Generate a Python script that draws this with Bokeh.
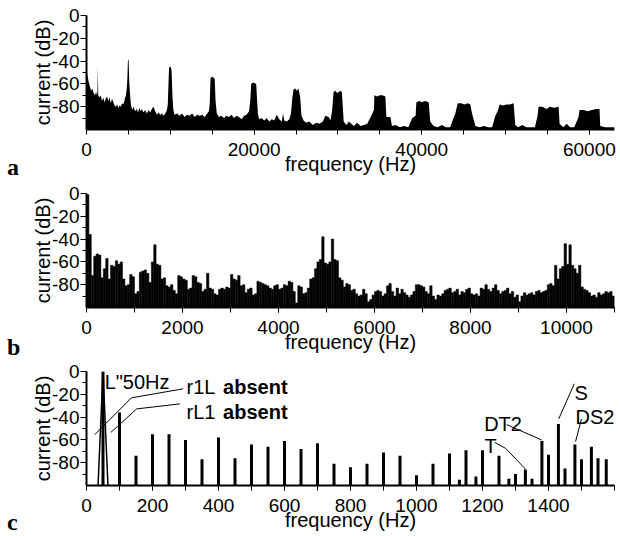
from bokeh.plotting import figure
from bokeh.layouts import column, row
from bokeh.models import FixedTicker, Label, Range1d, Div
from bokeh.embed import file_html
from bokeh.resources import INLINE

# ---------------- data ----------------
# panel a: spectrum envelope (frequency Hz, level dB)
a_freq = [0, 100, 250, 400, 550, 700, 850, 1000, 1150, 1250, 1300, 1350, 1400, 1550, 1700, 1850,
          2000, 2150, 2300, 2450, 2600, 2750, 2900, 3050, 3200, 3350, 3500, 3650, 3800, 3950,
          4100, 4250, 4400, 4550, 4700, 4800, 4880, 4940, 4980, 5030, 5100, 5200, 5300, 5450,
          5600, 5800, 6000, 6150, 6300, 6450, 6600, 6800, 7000, 7200, 7400, 7600, 7800, 8000,
          8200, 8400, 8600, 8800, 9000, 9200, 9400, 9600, 9700, 9780, 9850, 9950, 10050, 10150,
          10250, 10350, 10500, 10800, 11100, 11400, 11700, 12000, 12300, 12600, 12900, 13200,
          13500, 13800, 14100, 14400, 14600, 14700, 14800, 14900, 15100, 15300, 15400, 15550,
          15800, 16100, 16400, 16700, 17000, 17300, 17600, 17900, 18200, 18500, 18800, 19100,
          19400, 19550, 19650, 19800, 20000, 20250, 20350, 20450, 20600, 20900, 21200, 21500,
          21800, 22100, 22400, 22700, 23000, 23300, 23450, 23600, 23900, 24200, 24400, 24550,
          24700, 24900, 25100, 25300, 25500, 25650, 25900, 26200, 26600, 27000, 27400, 27800,
          28200, 28500, 28900, 29100, 29300, 29480, 29700, 29900, 30100, 30300, 30470, 30690,
          31000, 31300, 31600, 31900, 32300, 32700, 33100, 33500, 33900, 34300, 34350, 34700,
          35000, 35300, 35660, 35780, 36260, 36450, 36900, 37400, 37900, 38400, 38870, 39270,
          39360, 39700, 40000, 40400, 40830, 41010, 41410, 41900, 42400, 42900, 43400, 43730,
          44010, 44290, 44700, 45100, 45500, 45800, 46000, 46400, 46900, 47400, 47900, 48400,
          48780, 49060, 49300, 49700, 50100, 50500, 50960, 51160, 51500, 52000, 52500, 53000,
          53500, 53820, 53940, 54400, 54900, 55300, 55800, 56330, 56450, 56900, 57290, 57700,
          58200, 58710, 58830, 59300, 59800, 60300, 60800, 61210, 61300, 61900, 62400, 63000]
a_db = [-48, -52, -58, -62, -66, -64, -68, -70, -67, -70, -68, -45, -70, -72, -70, -75,
        -72, -76, -73, -71, -75, -72, -77, -73, -76, -79, -80, -78, -81, -79,
        -80, -77, -78, -74, -70, -64, -55, -40, -38, -40, -58, -70, -78, -83,
        -80, -84, -82, -85, -81, -84, -82, -85, -83, -86, -83, -85, -82, -80,
        -84, -87, -85, -87, -86, -88, -86, -83, -78, -60, -46, -45, -45, -48,
        -70, -82, -87, -86, -88, -86, -89, -87, -88, -86, -89, -87,
        -88, -87, -89, -86, -84, -78, -55, -54, -54, -56, -75, -86,
        -89, -88, -90, -88, -89, -87, -90, -88, -89, -91, -88, -87,
        -84, -74, -60, -59, -59, -60, -74, -86, -91, -90, -92, -90,
        -93, -91, -92, -87, -91, -93, -86, -92, -93, -91, -86, -73,
        -65, -64, -66, -64, -72, -88, -92, -94, -93, -96, -94, -95,
        -93, -88, -89, -92, -84, -67, -66, -68, -67, -66, -67, -93,
        -96, -93, -95, -97, -94, -97, -96, -95, -89, -83, -70, -71,
        -70, -70, -71, -89, -89, -97, -96, -98, -97, -98, -90, -88,
        -76, -75, -76, -75, -76, -93, -97, -98, -96, -98, -98, -91,
        -86, -77, -77, -78, -77, -78, -86, -97, -98, -97, -98, -98,
        -88, -84, -78, -79, -78, -78, -77, -96, -98, -96, -98, -98,
        -98, -88, -80, -80, -82, -80, -81, -80, -95, -98, -95, -98,
        -98, -89, -83, -83, -84, -83, -82, -82, -97, -98, -98, -98]

# panel b: spectrum in 50 Hz bins starting at 0 Hz
b_step = 50
b_db = [-1, -36, -72, -55, -53, -54, -74, -66, -57, -75,
        -63, -64, -59, -62, -60, -75, -81, -80, -71, -73,
        -88, -86, -69, -68, -67, -70, -78, -60, -45, -62,
        -63, -75, -74, -81, -82, -80, -85, -88, -72, -73,
        -75, -76, -84, -83, -72, -73, -78, -79, -86, -84,
        -70, -83, -84, -88, -89, -84, -83, -84, -82, -83,
        -71, -75, -76, -72, -81, -80, -87, -84, -83, -89,
        -88, -77, -78, -79, -80, -81, -83, -84, -81, -80,
        -84, -83, -80, -81, -77, -78, -86, -96, -81, -82,
        -88, -87, -83, -75, -74, -66, -60, -58, -38, -61,
        -62, -60, -40, -58, -59, -74, -76, -82, -79, -80,
        -85, -84, -88, -90, -89, -84, -88, -95, -93, -89,
        -86, -85, -86, -90, -88, -81, -79, -86, -90, -83,
        -88, -84, -87, -89, -91, -89, -86, -80, -80, -81,
        -82, -86, -88, -81, -90, -93, -89, -90, -88, -85,
        -84, -83, -87, -86, -84, -89, -86, -87, -84, -83,
        -88, -89, -88, -90, -83, -84, -80, -84, -86, -83,
        -80, -85, -88, -86, -85, -83, -88, -86, -91, -89,
        -95, -90, -87, -89, -88, -87, -89, -86, -85, -87,
        -86, -85, -80, -79, -81, -63, -75, -66, -64, -44,
        -62, -45, -63, -66, -70, -63, -82, -84, -85, -87,
        -90, -89, -91, -87, -89, -88, -86, -87, -86, -90]
b_freq = [b_step * (k + 0.5) for k in range(len(b_db))]

# panel c: harmonic lines
c_freq = [50, 100, 150, 200, 250, 300, 350, 400, 450, 500, 550, 600, 650, 700, 750, 800,
          850, 900, 950, 1000, 1050, 1100, 1130, 1150, 1180, 1200, 1250, 1280, 1300, 1330,
          1350, 1380, 1400, 1430, 1450, 1480, 1500, 1530, 1550, 1575]
c_db = [0, -36, -74, -55, -55, -60, -77, -58, -76, -64, -66, -61, -68, -63, -81, -84,
        -81, -71, -74, -91, -81, -72, -95, -69, -92, -69, -74, -94, -90, -86,
        -94, -61, -73, -46, -85, -64, -77, -66, -76, -77]
c_main_freq = [35, 50, 65]
c_main_db = [-100, 0, -100]

# panel c annotations: (text, x Hz, y dB, bold)
c_texts = [('L"50Hz', 55, -9.5, False),
           ("r1L", 303, -13.8, False), ("absent", 414, -13.8, True),
           ("rL1", 303, -35.2, False), ("absent", 414, -35.2, True),
           ("DT2", 1205, -45.7, False), ("T", 1206, -65, False),
           ("S", 1479, -19.1, False), ("DS2", 1482, -40.2, False)]
c_leaders = [([25, 136, 293], [-55.4, -23.1, -15.2]),
             ([74, 152, 283], [-53.4, -32.8, -28.4]),
             ([1237, 1270, 1330], [-62.2, -67.4, -85.5]),
             ([1273, 1379], [-46.6, -60.0]),
             ([1478, 1431], [-10.8, -41.6]),
             ([1500, 1482], [-41.6, -61.5])]

y_major = [0, -20, -40, -60, -80]
y_minor = [-10, -30, -50, -70, -90]

panel_letters = ["a", "b", "c"]
letter_tops = [155, 335, 510]

FONT = "Liberation Sans"
TICK_FS = "19px"
LAB_FS = "20px"
LEFT_W = 26


def make_fig(height, xmax, xmajor, xminor, bottom):
    p = figure(width=620 - LEFT_W, height=height, x_range=Range1d(0, xmax), y_range=Range1d(-100, 0),
               output_backend="svg", toolbar_location=None,
               min_border_left=86 - LEFT_W, min_border_right=6, min_border_top=15,
               min_border_bottom=bottom)
    p.outline_line_color = None
    p.grid.visible = False
    p.background_fill_color = "white"
    p.border_fill_color = "white"
    xa = p.xaxis[0]
    ya = p.yaxis[0]
    xa.ticker = FixedTicker(ticks=xmajor, minor_ticks=xminor)
    ya.ticker = FixedTicker(ticks=y_major, minor_ticks=y_minor)
    ya.major_label_overrides = {v: str(v) for v in y_major}
    xa.major_label_overrides = {v: str(v) for v in xmajor}
    for ax in (xa, ya):
        ax.axis_line_width = 2
        ax.axis_line_color = "black"
        ax.major_tick_line_color = "black"
        ax.minor_tick_line_color = "black"
        ax.major_tick_in = 0
        ax.minor_tick_in = 0
        ax.major_label_text_font = FONT
        ax.major_label_text_font_size = TICK_FS
        ax.major_label_text_color = "black"
        ax.axis_label_text_font = FONT
        ax.axis_label_text_font_size = LAB_FS
        ax.axis_label_text_font_style = "normal"
        ax.axis_label_text_color = "black"
    xa.major_tick_out = 5
    xa.minor_tick_out = 5
    xa.major_label_standoff = 8
    xa.axis_label = "frequency (Hz)"
    xa.axis_label_standoff = -6
    ya.major_tick_out = 6
    ya.minor_tick_out = 4
    ya.major_label_standoff = 1
    ya.axis_label = "current (dB)"
    ya.axis_label_standoff = -5
    return p


pa = make_fig(178, 63000, [0, 20000, 40000, 60000], list(range(5000, 63000, 5000)), 49)
pa.varea(x=a_freq, y1=-100, y2=a_db, fill_color="black")

pb = make_fig(178, 11000, [0, 2000, 4000, 6000, 8000, 10000], list(range(1000, 11001, 1000)), 49)
pb.vbar(x=b_freq, width=b_step, bottom=-100, top=b_db, fill_color="black",
        line_color="black", line_width=0.5)

pc = make_fig(180, 1600, [0, 200, 400, 600, 800, 1000, 1200, 1400], list(range(100, 1601, 100)), 51)
pc.segment(x0=c_freq, y0=-100, x1=c_freq, y1=c_db, line_color="black", line_width=3)
pc.line(c_main_freq, c_main_db, line_color="black", line_width=1.5)
for xs, ys in c_leaders:
    pc.line(xs, ys, line_color="black", line_width=1)
for txt, x, y, bold in c_texts:
    pc.add_layout(Label(x=x, y=y, text=txt, text_font=FONT, text_font_size=LAB_FS,
                        text_font_style="bold" if bold else "normal", text_color="black",
                        text_baseline="alphabetic", text_align="left"))

spans = "".join(
    '<span style="position:absolute;left:7px;top:%dpx;">%s</span>' % (t, s)
    for s, t in zip(panel_letters, letter_tops))
letters = Div(text='<div style="position:relative;width:%dpx;height:536px;'
                   "font-family:'Liberation Serif',serif;font-weight:bold;font-size:24px;"
                   'line-height:24px;color:#000;">%s</div>' % (LEFT_W, spans),
              width=LEFT_W, height=536, margin=(0, 0, 0, 0))

layout = row(letters, column(pa, pb, pc, spacing=0), spacing=0)
open("out.html", "w").write(file_html(layout, INLINE))
